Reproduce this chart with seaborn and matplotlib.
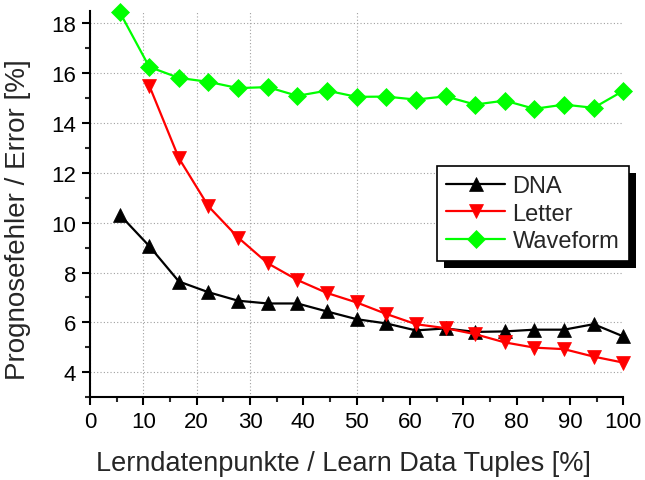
import matplotlib
matplotlib.use("Agg")
import matplotlib.pyplot as plt
from matplotlib.patches import Rectangle
from matplotlib.ticker import MultipleLocator
import seaborn as sns
import pandas as pd
import numpy as np

x_pct = [5.56, 11.11, 16.67, 22.22, 27.78, 33.33, 38.89, 44.44, 50.0,
         55.56, 61.11, 66.67, 72.22, 77.78, 83.33, 88.89, 94.44, 100.0]
dna = [10.32, 9.06, 7.64, 7.21, 6.87, 6.76, 6.76, 6.44, 6.13,
       5.96, 5.68, 5.76, 5.62, 5.64, 5.71, 5.71, 5.93, 5.44]
letter = [np.nan, 15.49, 12.58, 10.65, 9.40, 8.37, 7.70, 7.18, 6.80,
          6.34, 5.93, 5.77, 5.53, 5.20, 4.99, 4.93, 4.63, 4.39]
waveform = [18.44, 16.24, 15.80, 15.64, 15.39, 15.43, 15.08, 15.29, 15.04,
            15.05, 14.93, 15.06, 14.73, 14.89, 14.56, 14.73, 14.60, 15.28]

series_names = ["DNA", "Letter", "Waveform"]
colors = {"DNA": "#000000", "Letter": "#FF0000", "Waveform": "#00FF00"}
markers = {"DNA": "^", "Letter": "v", "Waveform": "D"}
msizes = {"DNA": 10, "Letter": 10, "Waveform": 9.5}

df = pd.DataFrame({
    "x": x_pct * 3,
    "y": dna + letter + waveform,
    "series": ["DNA"] * 18 + ["Letter"] * 18 + ["Waveform"] * 18,
})

sns.set_style("ticks")
plt.rcParams["font.family"] = ["Liberation Sans", "DejaVu Sans"]

fig = plt.figure(figsize=(6.45, 4.81), dpi=100)
ax = fig.add_axes([90 / 645, 1 - 398.3 / 481, 533.3 / 645, (398.3 - 11.5) / 481])

for name in series_names:
    sub = df[df["series"] == name].dropna()
    sns.lineplot(data=sub, x="x", y="y", ax=ax, color=colors[name],
                 marker=markers[name], markersize=msizes[name],
                 markeredgecolor=colors[name], markeredgewidth=0.5,
                 linewidth=1.6, label=name, clip_on=False, zorder=3,
                 legend=False)

ax.set_xlim(0, 100)
ax.set_ylim(3, 18.5)
ax.xaxis.set_major_locator(MultipleLocator(10))
ax.xaxis.set_minor_locator(MultipleLocator(5))
ax.yaxis.set_major_locator(MultipleLocator(2))
ax.yaxis.set_minor_locator(MultipleLocator(1))
ax.set_yticks([4, 6, 8, 10, 12, 14, 16, 18])

ax.grid(True, which="major", linestyle=(0, (1, 2)), color="#a0a0a0", linewidth=0.8)
for gl in ax.get_xgridlines():
    if gl.get_xdata()[0] in (0, 100):
        gl.set_visible(False)

for side in ("top", "right"):
    ax.spines[side].set_visible(False)
for side in ("left", "bottom"):
    ax.spines[side].set_linewidth(1.5)
    ax.spines[side].set_color("black")

ax.tick_params(which="major", direction="out", length=6, width=1.5,
               labelsize=16, pad=4, colors="black")
ax.tick_params(which="minor", direction="out", length=3.5, width=1.5)

ax.set_xlabel("Lerndatenpunkte / Learn Data Tuples [%]", fontsize=19.5)
ax.set_ylabel("Prognosefehler / Error [%]", fontsize=20)
ax.xaxis.set_label_coords(0.476, -0.135)
ax.yaxis.set_label_coords(-0.11, 0.462)

handles, labels = ax.get_legend_handles_labels()
leg = fig.legend(handles, labels, loc="upper left",
                 bbox_to_anchor=(437 / 645, 1 - 167 / 481),
                 bbox_transform=fig.transFigure,
                 fontsize=17, frameon=True, fancybox=False, framealpha=1,
                 edgecolor="black", handlelength=2.5, handletextpad=0.3,
                 labelspacing=0.22, borderpad=0.4, borderaxespad=0)
leg.get_frame().set_linewidth(1.2)
leg.set_zorder(6)

fig.canvas.draw()
bb = leg.get_window_extent()
inv = fig.transFigure.inverted()
(x0, y0) = inv.transform((bb.x0 + 7, bb.y0 - 7))
(x1, y1) = inv.transform((bb.x1 + 7, bb.y1 - 7))
shadow = Rectangle((x0, y0), x1 - x0, y1 - y0, transform=fig.transFigure,
                   facecolor="black", edgecolor="none", zorder=5)
fig.add_artist(shadow)

fig.savefig("out.png", dpi=100)
